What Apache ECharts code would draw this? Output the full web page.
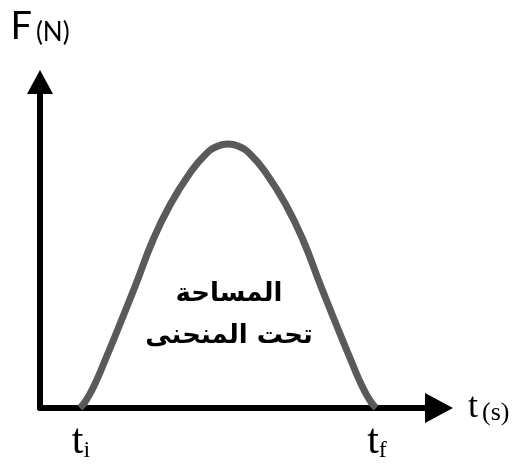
<!DOCTYPE html>
<html>
<head>
<meta charset="utf-8">
<script src="https://cdn.jsdelivr.net/npm/echarts@6/dist/echarts.min.js"></script>
<style>
  html, body { margin: 0; padding: 0; background: #fff; }
  #chart { width: 518px; height: 472px; }
</style>
</head>
<body>
<div id="chart"></div>
<script>
// impulse curve F(t)
var time  = [40, 45, 54, 66, 80, 96, 113, 130, 150, 166, 178, 188, 198, 210, 226, 246, 263, 280, 296, 310, 322, 331, 336];
var force = [0, 6, 22, 50, 84, 124, 168, 203, 235, 254, 262, 264, 262, 254, 235, 203, 168, 124, 84, 50, 22, 6, 0];

var tickValues = [40, 336];     // t_i, t_f
var tickSubs = ['i', 'f'];
var areaText = ['المساحة', 'تحت المنحنى'];

var curveData = [];
time.forEach(function (t, i) {
    curveData.push([t, force[i]]);
});

var sans = 'Lato';
var serif = 'Liberation Serif';
var chartDom = document.getElementById('chart');
var myChart = echarts.init(chartDom);

var option = {
    animation: false,
    grid: {
        left: 40,
        right: 79,
        top: 82,
        bottom: 64
    },
    xAxis: {
        type: 'value',
        min: 0,
        max: 399,
        name: '{t|t}{u|(s)}',
        nameLocation: 'end',
        nameGap: 29,
        nameTextStyle: {
            rich: {
                t: { fontFamily: serif, fontSize: 36, color: '#000', lineHeight: 36, verticalAlign: 'bottom' },
                u: { fontFamily: serif, fontSize: 26, color: '#000', lineHeight: 36, verticalAlign: 'bottom', padding: [0, 0, 0, 4] }
            }
        },
        splitLine: { show: false },
        axisTick: { show: false },
        axisLine: {
            show: true,
            symbol: ['none', 'triangle'],
            symbolSize: [30, 28],
            lineStyle: { color: '#000', width: 6, cap: 'round' }
        },
        axisLabel: {
            customValues: tickValues,
            margin: 11,
            padding: [0, 0, 0, 2],
            formatter: function (value) {
                var idx = tickValues.indexOf(value);
                return '{t|t}{s|' + (idx >= 0 ? tickSubs[idx] : '') + '}';
            },
            rich: {
                t: { fontFamily: serif, fontSize: 42, color: '#000', lineHeight: 44, verticalAlign: 'bottom' },
                s: { fontFamily: serif, fontSize: 24, color: '#000', lineHeight: 44, verticalAlign: 'bottom' }
            }
        }
    },
    yAxis: {
        type: 'value',
        min: 0,
        max: 326,
        name: '{F|F}{u|(N)}',
        nameLocation: 'end',
        nameGap: 36,
        nameTextStyle: {
            rich: {
                F: { fontFamily: sans, fontSize: 38, color: '#000', lineHeight: 40, verticalAlign: 'bottom' },
                u: { fontFamily: sans, fontSize: 26, color: '#000', lineHeight: 40, verticalAlign: 'bottom', padding: [0, 0, 0, 4] }
            }
        },
        splitLine: { show: false },
        axisTick: { show: false },
        axisLabel: { show: false },
        axisLine: {
            show: true,
            symbol: ['none', 'triangle'],
            symbolSize: [26, 24],
            lineStyle: { color: '#000', width: 6 }
        }
    },
    graphic: [
        {
            type: 'text',
            x: 229,
            y: 273,
            style: {
                text: areaText.join('\n'),
                font: 'bold 26px "DejaVu Sans"',
                fill: '#000',
                align: 'center',
                verticalAlign: 'top',
                lineHeight: 42
            }
        }
    ],
    series: [
        {
            type: 'line',
            data: curveData,
            smooth: 0.5,
            showSymbol: false,
            clip: false,
            z: 1,
            lineStyle: { color: '#5a5a5a', width: 7 }
        }
    ]
};
myChart.setOption(option);
</script>
</body>
</html>
